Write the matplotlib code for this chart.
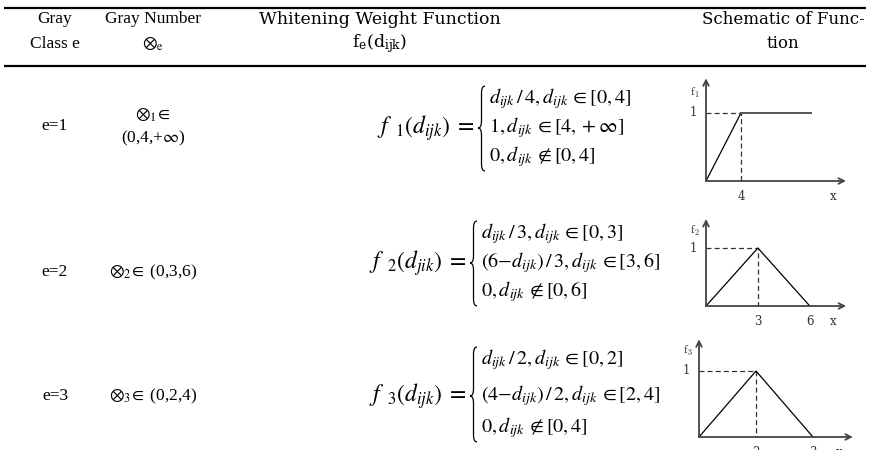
import matplotlib.pyplot as plt
from matplotlib.path import Path
from matplotlib.patches import PathPatch

plt.rcParams['font.family'] = ['Liberation Serif', 'DejaVu Serif']
plt.rcParams['mathtext.fontset'] = 'stix'

W, H = 869, 450

# === table content ===
headers = [
    ["Gray", "Class e"],
    ["Gray Number", r"$\otimes_{\mathrm{e}}$"],
    ["Whitening Weight Function", r"$\mathrm{f_e(d_{ijk})}$"],
    ["Schematic of Func-", "tion"],
]
classes = ["e=1", "e=2", "e=3"]
gray_numbers = [
    [r"$\otimes_{1}\!\in$", r"(0,4,+$\infty$)"],
    [r"$\otimes_{2}\!\in$ (0,3,6)"],
    [r"$\otimes_{3}\!\in$ (0,2,4)"],
]
func_names = [r"$f\;\,_{1}(d_{ijk})\;=$", r"$f\;\,_{2}(d_{jik})\;=$", r"$f\;\,_{3}(d_{ijk})\;=$"]
func_cases = [
    [r"$d_{ijk}\,/\,4,d_{ijk}\,{\in}[0,4]$",
     r"$1,d_{ijk}\,{\in}[4,+\infty]$",
     r"$0,d_{ijk}\,{\notin}[0,4]$"],
    [r"$d_{ijk}\,/\,3,d_{ijk}\,{\in}[0,3]$",
     r"$(6{-}d_{ijk})\,/\,3,d_{ijk}\,{\in}[3,6]$",
     r"$0,d_{ijk}\,{\notin}[0,6]$"],
    [r"$d_{ijk}\,/\,2,d_{ijk}\,{\in}[0,2]$",
     r"$(4{-}d_{ijk})\,/\,2,d_{ijk}\,{\in}[2,4]$",
     r"$0,d_{ijk}\,{\notin}[0,4]$"],
]

# schematic functions (break points)
sch_x = [[0, 4, 12], [0, 3, 6], [0, 2, 4]]
sch_y = [[0, 1, 1], [0, 1, 0], [0, 1, 0]]
sch_peak = [4, 3, 2]
sch_ticks = [[4], [3, 6], [2, 4]]
sch_ticklabels = [["4"], ["3", "6"], ["2", "3"]]

# === layout (pixels) ===
col_x = [55, 153, 380, 783]
row_y = [126, 272, 396]
case_y = [[99, 128, 157], [234, 263, 292], [360, 396, 428]]
brace_x = [478, 470, 470]
# origin px, px per unit x, px per unit y, x range, y range
sch_box = [(706, 181, 8.75, 68, 16.0, 1.51),
           (706, 306, 17.3, 58, 8.1, 1.5),
           (699, 437, 28.5, 66, 5.4, 1.48)]

fig = plt.figure(figsize=(W / 100, H / 100), dpi=100)
ax = fig.add_axes([0, 0, 1, 1])
ax.set_xlim(0, W)
ax.set_ylim(H, 0)
ax.axis('off')

# rules
ax.plot([4, 866], [8, 8], color='black', lw=1.6, solid_capstyle='butt')
ax.plot([4, 866], [66, 66], color='black', lw=1.6, solid_capstyle='butt')

for j, (cx, lines) in enumerate(zip(col_x, headers)):
    if j < 2:
        ax.text(cx, 19, lines[0], ha='center', va='center', fontsize=12.5)
        ax.text(cx, 44, lines[1], ha='center', va='center', fontsize=12.5)
    else:
        fs = 12.5 if j == 2 else 12
        ax.text(cx, 19, lines[0], ha='center', va='center', fontsize=fs,
                family='DejaVu Serif')
        ax.text(cx, 44, lines[1], ha='center', va='center', fontsize=fs,
                family='DejaVu Serif', math_fontfamily='dejavuserif')

for i in range(3):
    ax.text(col_x[0], row_y[i], classes[i], ha='center', va='center', fontsize=12.5)
    g = gray_numbers[i]
    if len(g) == 2:
        ax.text(col_x[1], row_y[i] - 11, g[0], ha='center', va='center', fontsize=12.5)
        ax.text(col_x[1], row_y[i] + 12, g[1], ha='center', va='center', fontsize=12.5)
    else:
        ax.text(col_x[1], row_y[i], g[0], ha='center', va='center', fontsize=12.5)

    # formula
    bx = brace_x[i]
    ys = case_y[i]
    ax.text(bx - 3, ys[1], func_names[i], ha='right', va='center', fontsize=17)
    for y, s in zip(ys, func_cases[i]):
        ax.text(bx + 11, y, s, ha='left', va='center', fontsize=14.5)
    top, bot, mid = ys[0] - 13, ys[2] + 14, ys[1]
    w = 7
    verts = [(bx + w, top), (bx + w / 2, top), (bx + w / 2, top + w),
             (bx + w / 2, mid - w),
             (bx + w / 2, mid), (bx, mid),
             (bx + w / 2, mid), (bx + w / 2, mid + w),
             (bx + w / 2, bot - w),
             (bx + w / 2, bot), (bx + w, bot)]
    codes = [Path.MOVETO, Path.CURVE3, Path.CURVE3, Path.LINETO,
             Path.CURVE3, Path.CURVE3, Path.CURVE3, Path.CURVE3,
             Path.LINETO, Path.CURVE3, Path.CURVE3]
    ax.add_patch(PathPatch(Path(verts, codes), fill=False, lw=0.9, color='black'))

    # schematic
    ox, oy, sx, sy, xr, yr = sch_box[i]
    a = fig.add_axes([ox / W, 1 - oy / H, xr * sx / W, yr * sy / H])
    a.set_xlim(0, xr)
    a.set_ylim(0, yr)
    a.axis('off')
    arrow = dict(arrowstyle='->', color='#444444', lw=1.3, shrinkA=0, shrinkB=0)
    a.annotate('', xy=(xr, 0), xytext=(0, 0), arrowprops=arrow, annotation_clip=False)
    a.annotate('', xy=(0, yr), xytext=(0, 0), arrowprops=arrow, annotation_clip=False)
    px = sch_peak[i]
    a.plot([0, px, px], [1, 1, 0], ls=(0, (4, 2.5)), color='#333333', lw=0.9, clip_on=False)
    if i == 0:
        a.plot(sch_x[i][:2], sch_y[i][:2], color='black', lw=0.9, clip_on=False)
        a.plot(sch_x[i][1:], sch_y[i][1:], color='#555555', lw=1.4, clip_on=False)
    else:
        a.plot(sch_x[i], sch_y[i], color='black', lw=0.9, clip_on=False)
    for t, lbl in zip(sch_ticks[i], sch_ticklabels[i]):
        a.annotate(lbl, (t, 0), xytext=(0, -11), textcoords='offset points',
                   ha='center', va='center', fontsize=8.5, family='DejaVu Serif',
                   annotation_clip=False, color='#333333')
    a.annotate('x', (xr * 0.91, 0), xytext=(0, -11), textcoords='offset points',
               ha='center', va='center', fontsize=8.5, family='DejaVu Serif',
               annotation_clip=False, color='#333333')
    a.annotate('1', (0, 1), xytext=(-9, 0), textcoords='offset points',
               ha='center', va='center', fontsize=8.5, family='DejaVu Serif',
               annotation_clip=False, color='#333333')
    a.annotate(r'$\mathrm{f}_{%d}$' % (i + 1), (0, 1.3), xytext=(-8, 0),
               textcoords='offset points', ha='center', va='center',
               fontsize=8.5, math_fontfamily='cm', annotation_clip=False,
               color='#333333')

fig.savefig("out.png", dpi=100)
